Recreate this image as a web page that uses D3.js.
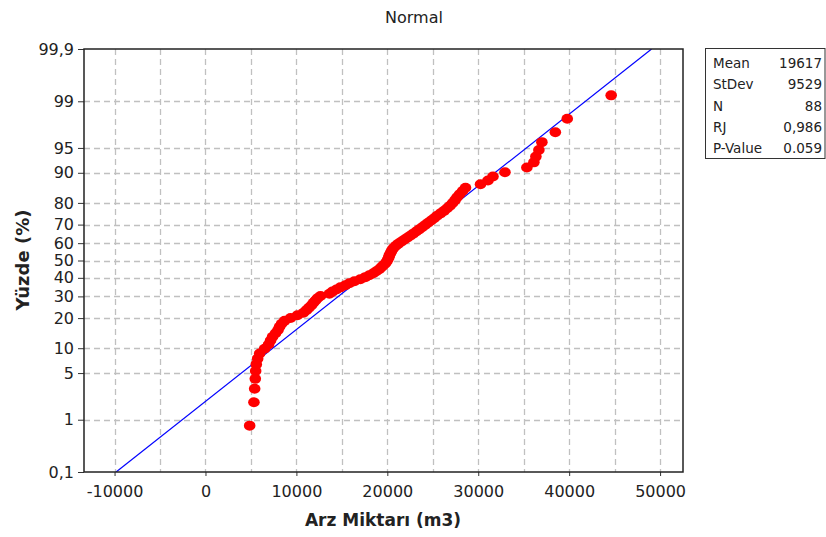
<!DOCTYPE html>
<html>
<head>
<meta charset="utf-8">
<script src="https://cdn.jsdelivr.net/npm/d3@7"></script>
<style>
  html, body { margin: 0; padding: 0; background: #fff; }
  svg { display: block; font-family: "DejaVu Sans", Verdana, sans-serif; }
</style>
</head>
<body>
<svg id="chart" width="826" height="537"></svg>
<script>
// ---- data ----
const arzValues = [
  4860, 5330, 5410, 5480, 5520, 5590, 5740, 5960, 6500, 6940,
  7160, 7380, 7710, 7980, 8150, 8370, 8700, 9360, 10120, 10780,
  11110, 11390, 11660, 11880, 12100, 12320, 12650, 13630, 13960, 14400,
  14840, 15390, 15830, 16380, 17030, 17580, 18020, 18460, 18790, 19120,
  19340, 19560, 19780, 19940, 20050, 20160, 20210, 20320, 20430, 20540,
  20710, 20930, 21200, 21530, 21860, 22190, 22520, 22850, 23180, 23500,
  23830, 24160, 24490, 24820, 25150, 25480, 25860, 26250, 26580, 26900,
  27180, 27450, 27670, 27950, 28280, 28600, 30250, 31070, 31620, 32940,
  35350, 36120, 36340, 36670, 37000, 38480, 39790, 44620
];
const xTickValues = [-10000, 0, 10000, 20000, 30000, 40000, 50000];
const xGridValues = [-10000, -5000, 0, 5000, 10000, 15000, 20000, 25000, 30000, 35000, 40000, 45000, 50000];
const yTickValues = [0.1, 1, 5, 10, 20, 30, 40, 50, 60, 70, 80, 90, 95, 99, 99.9];
const yTickLabels = ["0,1", "1", "5", "10", "20", "30", "40", "50", "60", "70", "80", "90", "95", "99", "99,9"];
const statLabels = ["Mean", "StDev", "N", "RJ", "P-Value"];
const statValues = ["19617", "9529", "88", "0,986", "0.059"];
const fitMean = 19617;
const fitStDev = 9529;
const chartTitle = "Normal";
const xTitle = "Arz Miktarı (m3)";
const yTitle = "Yüzde (%)";

// ---- inverse normal CDF (probability-paper transform) ----
function qnorm(p) {
  const a = [-3.969683028665376e+01, 2.209460984245205e+02, -2.759285104469687e+02, 1.383577518672690e+02, -3.066479806614716e+01, 2.506628277459239e+00];
  const b = [-5.447609879822406e+01, 1.615858368580409e+02, -1.556989798598866e+02, 6.680131188771972e+01, -1.328068155288572e+01];
  const c = [-7.784894002430293e-03, -3.223964580411365e-01, -2.400758277161838e+00, -2.549732539343734e+00, 4.374664141464968e+00, 2.938163982698783e+00];
  const d = [7.784695709041462e-03, 3.224671290700398e-01, 2.445134137142996e+00, 3.754408661907416e+00];
  const pl = 0.02425, ph = 1 - pl;
  let q, r;
  if (p < pl) {
    q = Math.sqrt(-2 * Math.log(p));
    return (((((c[0]*q+c[1])*q+c[2])*q+c[3])*q+c[4])*q+c[5]) / ((((d[0]*q+d[1])*q+d[2])*q+d[3])*q+1);
  } else if (p <= ph) {
    q = p - 0.5; r = q * q;
    return (((((a[0]*r+a[1])*r+a[2])*r+a[3])*r+a[4])*r+a[5])*q / (((((b[0]*r+b[1])*r+b[2])*r+b[3])*r+b[4])*r+1);
  } else {
    q = Math.sqrt(-2 * Math.log(1 - p));
    return -(((((c[0]*q+c[1])*q+c[2])*q+c[3])*q+c[4])*q+c[5]) / ((((d[0]*q+d[1])*q+d[2])*q+d[3])*q+1);
  }
}

// ---- layout ----
const svg = d3.select("#chart");
const plot = { left: 84, right: 683, top: 49, bottom: 472 };

const x = d3.scaleLinear().domain([-13360, 52520]).range([plot.left, plot.right]);
const zMax = qnorm(0.999);
const y = d3.scaleLinear().domain([-zMax, zMax]).range([plot.bottom, plot.top]);
const yPct = pct => y(qnorm(pct / 100));

// title
svg.append("text").attr("x", 414).attr("y", 23).attr("text-anchor", "middle")
  .attr("font-size", 16).attr("fill", "#222").text(chartTitle);

// grid
const grid = svg.append("g").attr("stroke", "#c0c0c0").attr("stroke-width", 1.3).attr("stroke-dasharray", "6,4");
grid.selectAll("line.v").data(xGridValues).join("line")
  .attr("x1", d => Math.round(x(d)) + 0.5).attr("x2", d => Math.round(x(d)) + 0.5)
  .attr("y1", plot.top).attr("y2", plot.bottom);
grid.selectAll("line.h").data(yTickValues.filter(v => v > 0.1 && v < 99.9)).join("line")
  .attr("y1", d => Math.round(yPct(d)) + 0.5).attr("y2", d => Math.round(yPct(d)) + 0.5)
  .attr("x1", plot.left).attr("x2", plot.right);

// fitted line
svg.append("clipPath").attr("id", "clip").append("rect")
  .attr("x", plot.left).attr("y", plot.top).attr("width", plot.right - plot.left).attr("height", plot.bottom - plot.top);
svg.append("line").attr("clip-path", "url(#clip)")
  .attr("x1", x(fitMean - fitStDev * zMax)).attr("y1", y(-zMax))
  .attr("x2", x(fitMean + fitStDev * zMax)).attr("y2", y(zMax))
  .attr("stroke", "#0000ff").attr("stroke-width", 1.2);

// points (median-rank plotting positions)
const n = arzValues.length;
const sorted = arzValues.slice().sort((a, b) => a - b);
svg.append("g").selectAll("ellipse").data(sorted).join("ellipse")
  .attr("cx", d => x(d))
  .attr("cy", (d, i) => y(qnorm((i + 1 - 0.3) / (n + 0.4))))
  .attr("rx", 5.8).attr("ry", 5.0)
  .attr("fill", "#ff0000");

// axes
const xAxis = d3.axisBottom(x).tickValues(xTickValues).tickSize(4).tickPadding(10).tickFormat(d => String(d));
const gx = svg.append("g").attr("transform", `translate(0,${plot.bottom})`).call(xAxis);
gx.select(".domain").remove();
gx.selectAll("line").attr("stroke", "#333");
gx.selectAll("text").attr("font-size", 16).attr("fill", "#222").attr("font-family", "DejaVu Sans");

const yAxis = d3.axisLeft(y).tickValues(yTickValues.map(v => qnorm(v / 100)))
  .tickSize(6).tickPadding(4).tickFormat((d, i) => yTickLabels[i]);
const gy = svg.append("g").attr("transform", `translate(${plot.left},0)`).call(yAxis);
gy.select(".domain").remove();
gy.selectAll("line").attr("stroke", "#333");
gy.selectAll("text").attr("font-size", 16).attr("fill", "#222").attr("font-family", "DejaVu Sans");

// frame
svg.append("rect").attr("x", plot.left).attr("y", plot.top)
  .attr("width", plot.right - plot.left).attr("height", plot.bottom - plot.top)
  .attr("fill", "none").attr("stroke", "#222").attr("stroke-width", 1.5);

// axis titles
svg.append("text").attr("x", 383).attr("y", 526).attr("text-anchor", "middle")
  .attr("font-size", 17).attr("font-weight", "bold").attr("fill", "#222").text(xTitle);
svg.append("text").attr("transform", "translate(29,260) rotate(-90)").attr("text-anchor", "middle")
  .attr("font-size", 18).attr("font-weight", "bold").attr("fill", "#222").text(yTitle);

// stats box
const box = svg.append("g");
box.append("rect").attr("x", 705.5).attr("y", 48.5).attr("width", 119.5).attr("height", 110)
  .attr("fill", "#fff").attr("stroke", "#333").attr("stroke-width", 1);
const rowY = d3.scaleLinear().domain([0, statLabels.length - 1]).range([68, 153]);
box.selectAll("text.lab").data(statLabels).join("text")
  .attr("x", 713).attr("y", (d, i) => rowY(i)).attr("font-size", 13.5).attr("fill", "#222").text(d => d);
box.selectAll("text.val").data(statValues).join("text")
  .attr("x", 822).attr("y", (d, i) => rowY(i)).attr("text-anchor", "end").attr("font-size", 13.5).attr("fill", "#222").text(d => d);
</script>
</body>
</html>
